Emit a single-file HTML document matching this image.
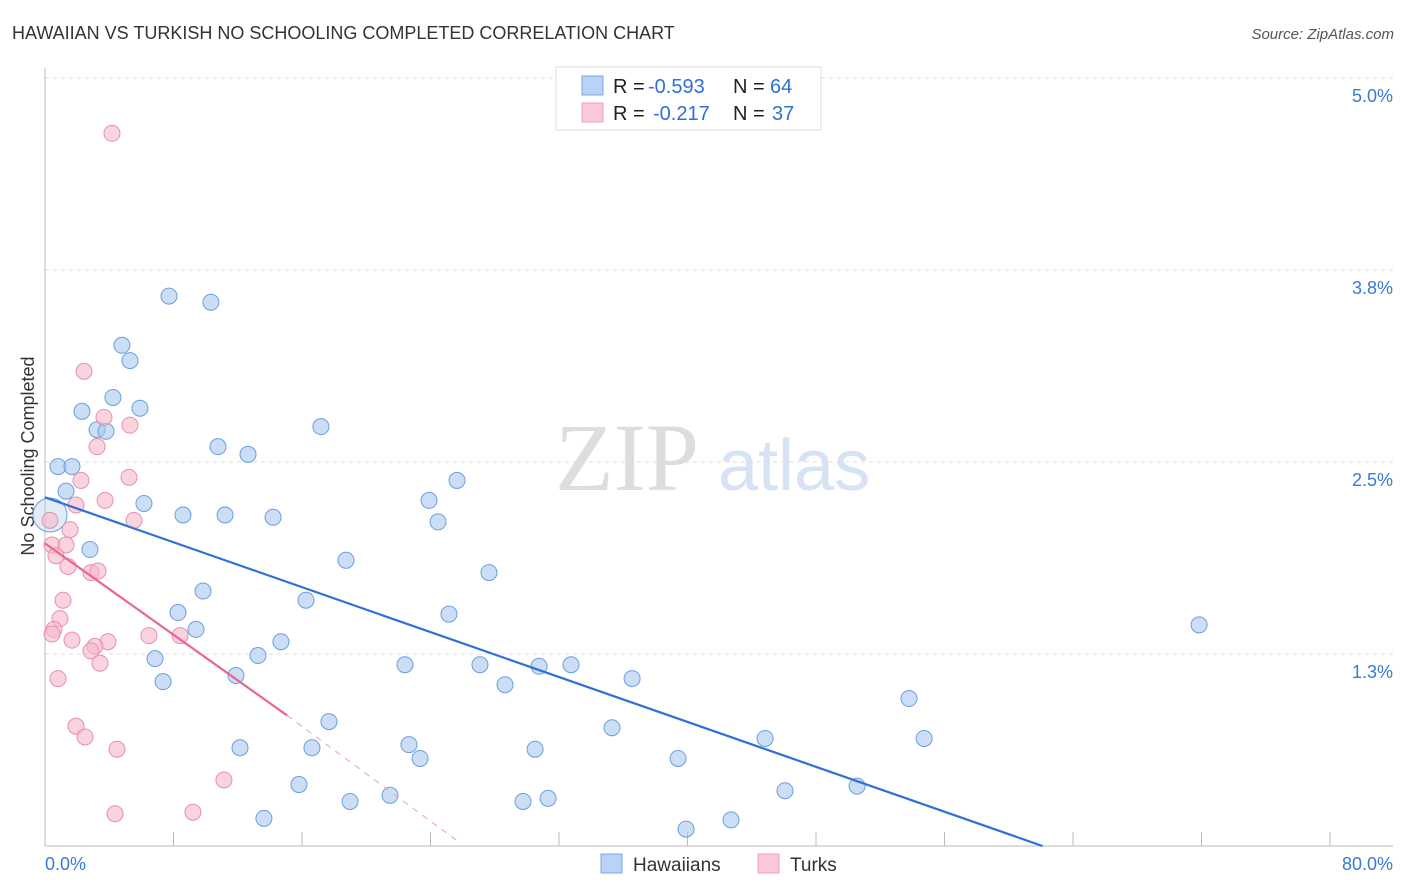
<!DOCTYPE html>
<html><head><meta charset="utf-8"><style>
body{margin:0;background:#fff;font-family:"Liberation Sans",sans-serif;}
svg{display:block}
</style></head><body>
<svg id="chart" width="1406" height="892">
<text x="12" y="39" font-size="18" fill="#333">HAWAIIAN VS TURKISH NO SCHOOLING COMPLETED CORRELATION CHART</text>
<text x="1394" y="39" font-size="15" fill="#555" text-anchor="end" font-style="italic">Source: ZipAtlas.com</text>
<text x="34" y="456" font-size="18" fill="#333" text-anchor="middle" transform="rotate(-90 34 456)">No Schooling Completed</text>
<text x="555" y="490" font-size="96" fill="#ddd" font-family="Liberation Serif,serif">ZIP</text>
<text x="718" y="490" font-size="72" fill="#d5e3f5">atlas</text>
<g id="grid"></g><g id="marks"></g>
<g>
<rect x="556" y="67" width="265" height="63" fill="#fff" stroke="#ddd"/>
<rect x="582" y="76" width="21" height="19" fill="#b8d3f5" stroke="#7aa8e6"/>
<rect x="582" y="103" width="21" height="19" fill="#fac8d6" stroke="#ee9fb8"/>
<text x="613" y="93" font-size="20" fill="#222">R =</text>
<text x="648" y="93" font-size="20" fill="#2f6fd6">-0.593</text>
<text x="733" y="93" font-size="20" fill="#222">N =</text>
<text x="770" y="93" font-size="20" fill="#2f6fd6">64</text>
<text x="613" y="120" font-size="20" fill="#222">R =</text>
<text x="653" y="120" font-size="20" fill="#2f6fd6">-0.217</text>
<text x="733" y="120" font-size="20" fill="#222">N =</text>
<text x="772" y="120" font-size="20" fill="#2f6fd6">37</text>
</g>
<g>
<rect x="601" y="854" width="21" height="19" fill="#b8d3f5" stroke="#7aa8e6"/>
<text x="633" y="871" font-size="19" fill="#333">Hawaiians</text>
<rect x="758" y="854" width="21" height="19" fill="#fac8d6" stroke="#ee9fb8"/>
<text x="790" y="871" font-size="19" fill="#333">Turks</text>
</g>
</svg>
<script>
const xTicks=[0,8,16,24,32,40,48,56,64,72,80];
const yTicks=[1.25,2.5,3.75,5.0];
const yTickLabels=["1.3%","2.5%","3.8%","5.0%"];
const hawX=[0.31,0.81,1.68,1.31,2.30,3.24,3.80,4.23,5.91,4.79,5.29,7.72,10.33,2.80,6.16,8.59,11.21,10.77,12.64,14.20,17.18,8.28,9.84,9.40,6.85,7.35,11.89,13.26,14.69,16.25,18.74,17.68,16.62,12.14,15.81,13.63,18.99,21.48,22.66,23.35,22.41,23.91,24.47,25.65,25.15,27.64,27.08,28.64,30.76,32.75,30.51,29.76,31.32,35.30,36.55,39.41,39.91,42.71,44.83,46.07,50.56,53.79,54.73,71.85];
const hawY=[2.155,2.47,2.47,2.31,2.83,2.71,2.70,2.92,2.85,3.26,3.16,3.58,3.54,1.93,2.23,2.155,2.155,2.60,2.55,2.14,2.73,1.52,1.66,1.41,1.22,1.07,1.11,1.24,1.33,1.60,1.86,0.81,0.64,0.64,0.40,0.18,0.29,0.33,0.66,0.57,1.18,2.25,2.11,2.38,1.51,1.78,1.18,1.05,1.17,1.18,0.63,0.29,0.31,0.77,1.09,0.57,0.11,0.17,0.70,0.36,0.39,0.96,0.70,1.44];
const turX=[4.17,2.43,3.67,5.29,3.24,2.24,5.23,3.74,1.93,5.54,0.31,0.44,1.56,1.31,0.68,1.43,2.86,3.30,1.12,0.93,0.56,0.44,1.68,3.92,3.11,2.86,3.42,6.47,8.41,0.81,1.93,2.49,4.48,11.14,4.36,9.21];
const turY=[4.64,3.09,2.79,2.74,2.60,2.38,2.40,2.25,2.22,2.12,2.12,1.96,2.06,1.96,1.89,1.82,1.78,1.79,1.60,1.48,1.41,1.38,1.34,1.33,1.30,1.27,1.19,1.37,1.37,1.09,0.78,0.71,0.63,0.43,0.21,0.22];
const hawTrend=[[0,2.27],[62.1,0]];
const turTrend=[[0,1.97],[15.07,0.85]];
const turTrendExt=[[15.07,0.85],[25.84,0.02]];
const NS="http://www.w3.org/2000/svg";
const sx=v=>45+v/80*1285, sy=v=>846-v*153.6;
const grid=document.getElementById('grid'), marks=document.getElementById('marks');
function mk(tag,attrs,parent){const e=document.createElementNS(NS,tag);for(const k in attrs)e.setAttribute(k,attrs[k]);parent.appendChild(e);return e;}
yTicks.forEach((t,i)=>{
 const l=mk('line',{x1:45,x2:1393,y1:sy(t),y2:sy(t),stroke:'#ddd','stroke-dasharray':'4,4'},grid);
 
 
 const tx=mk('text',{x:1393,y:sy(t)+24,'font-size':18,fill:'#3b78d8','text-anchor':'end'},grid);
 tx.textContent=yTickLabels[i];
 
 
});
const ax=mk('line',{x1:45,x2:1393,y1:846,y2:846,stroke:'#bbb'},grid);


const ay=mk('line',{x1:45,x2:45,y1:68,y2:846,stroke:'#bbb'},grid);


xTicks.forEach(t=>{
 const l=mk('line',{x1:sx(t),x2:sx(t),y1:846,y2:832,stroke:'#bbb'},grid);
 
 
});
[[0,'0.0%','start',45],[80,'80.0%','end',1393]].forEach(a=>{
 const tx=mk('text',{x:a[3],y:870,'font-size':18,fill:'#3b78d8','text-anchor':a[2]},grid);
 tx.textContent=a[1];
 
 
});
function pts(X,Y,fill,stroke,name){
 X.forEach((x,i)=>{
  const big=(i===0&&name==='hawaiian-point');
  const r=big?17:8;
  const c=mk('circle',{cx:sx(x),cy:sy(Y[i]),r:r,fill:fill,'fill-opacity':big?0.35:0.6,stroke:stroke,'stroke-width':1},marks);
  
  
 });
}
pts(hawX,hawY,'#a9c8ef','#6a9fe0','hawaiian-point');
pts(turX,turY,'#f5b8ca','#e890aa','turk-point');
function line(p,color,dash,name){
 const l=mk('line',{x1:sx(p[0][0]),y1:sy(p[0][1]),x2:sx(p[1][0]),y2:sy(p[1][1]),stroke:color,'stroke-width':dash?1:2.2},marks);
 if(dash)l.setAttribute('stroke-dasharray','6,6');
 
 
}
line(hawTrend,'#2f6fd6',false,'hawaiian-trendline');
line(turTrend,'#e8668f',false,'turk-trendline');
line(turTrendExt,'#e8a0b8',true,'turk-trendline-extension');
</script>
</body></html>
